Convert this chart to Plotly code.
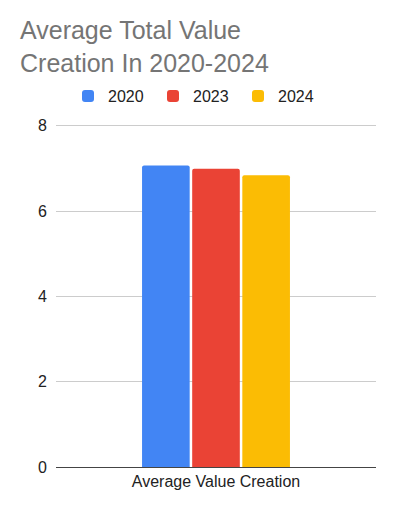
import plotly.graph_objects as go

categories = ["Average Value Creation"]
series_names = ["2020", "2023", "2024"]
values_2020 = [7.07]
values_2023 = [6.99]
values_2024 = [6.84]
colors = ["#4285F4", "#EA4335", "#FBBC04"]
y_ticks = [0, 2, 4, 6, 8]

fig = go.Figure()
for name, vals, col in zip(series_names, [values_2020, values_2023, values_2024], colors):
    fig.add_trace(go.Bar(name=name, x=categories, y=vals, marker=dict(color=col, line=dict(width=0))))

fig.update_layout(
    width=396, height=512,
    margin=dict(l=56, r=20, t=124, b=45, autoexpand=False),
    paper_bgcolor="white", plot_bgcolor="white",
    font=dict(family="Liberation Sans, Arial, sans-serif", size=16, color="#222222"),
    barmode="group", bargap=0.53, bargroupgap=0.05, barcornerradius=2,
    title=dict(text="Average Total Value<br>Creation In 2020-2024",
               font=dict(size=25, color="#757575"),
               xref="container", x=20/396, xanchor="left",
               yref="container", y=1-39/512, yanchor="top"),
    legend=dict(orientation="h", xref="container", x=68/396, xanchor="left",
                yref="container", y=1-96/512, yanchor="middle",
                font=dict(size=16, color="#222222"), entrywidth=40, entrywidthmode="pixels",
                itemclick=False),
    showlegend=True,
)
fig.update_xaxes(showline=True, linecolor="#444444", linewidth=1, ticks="", showgrid=False,
                 tickfont=dict(size=16, color="#222222"))
fig.update_yaxes(range=[0, 8.04], tickvals=y_ticks, showgrid=True, gridcolor="#cccccc", gridwidth=1,
                 zeroline=False, ticks="", ticklabelstandoff=8, tickfont=dict(size=16, color="#222222"))

fig.write_html("out.html", config={"displayModeBar": False},
               post_script="document.body.style.margin='0';")
